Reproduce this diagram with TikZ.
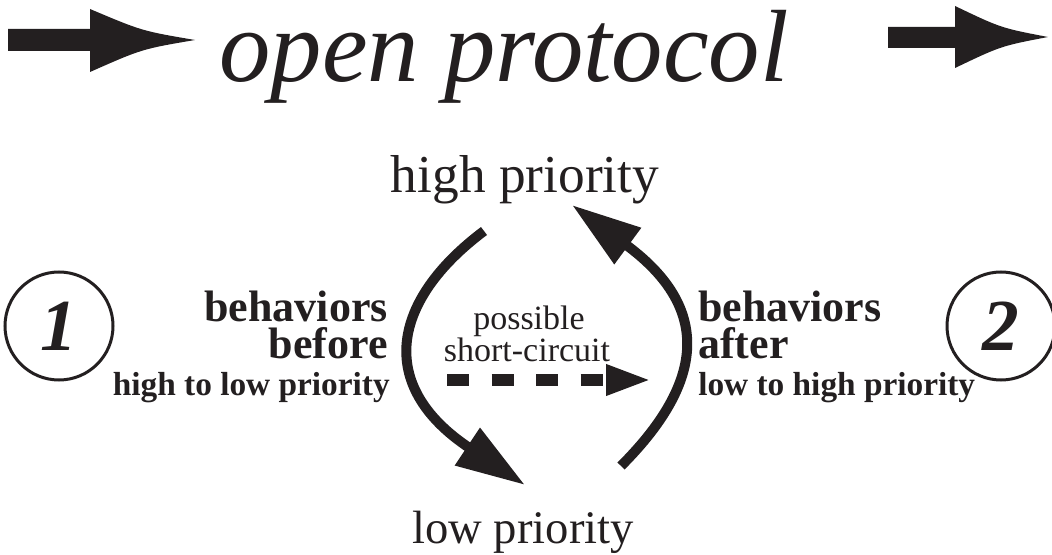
\documentclass[tikz,border=0pt]{standalone}
\usepackage{fontspec}
\setmainfont{Liberation Serif}
\usetikzlibrary{arrows.meta}
\definecolor{ink}{HTML}{231F20}

\begin{document}
\begin{tikzpicture}[x=0.75pt, y=-0.75pt,
	every node/.style = {inner sep=0pt, text=ink},
	label/.style = {font=\fontsize{40}{40}\selectfont},
	bold/.style = {font=\bfseries\fontsize{33}{33}\selectfont},
	boldsmall/.style = {font=\bfseries\fontsize{25}{25}\selectfont},
	small/.style = {font=\fontsize{25.5}{25.5}\selectfont},
	num/.style = {shape=circle, draw=ink, line width=2.25pt, minimum size=81pt,
		font=\bfseries\itshape\fontsize{55}{55}\selectfont},
	curve/.style = {draw=ink, line width=7.5pt, -{Triangle[length=52pt,width=32pt]}},
	shortcut/.style = {draw=ink, line width=9pt, dash pattern=on 16.5pt off 16.9pt,
		-{Triangle[length=34.5pt,width=21pt]}}]
	\useasboundingbox (0,0) rectangle (1052,555);
	\clip (0,0) rectangle (1052,555);

	% title with the two block arrows
	\fill[ink] (8,29) -- (90,29) -- (90,9) .. controls (142,31) .. (195,40)
		.. controls (142,49) .. (90,72) -- (90,51) -- (8,51) -- cycle;
	\fill[ink] (888,27) -- (955,27) -- (955,6) .. controls (1001,28) .. (1048,37)
		.. controls (1001,46) .. (955,68) -- (955,48) -- (888,48) -- cycle;
	\node[font=\itshape\fontsize{77}{77}\selectfont, anchor=base] (title) at (504,82) {open protocol};

	% priorities
	\node[label, anchor=base] (hp) at (525,193) {high priority};
	\node[label, anchor=base, font=\fontsize{35}{35}\selectfont] (lp) at (523,543) {low priority};

	% left side
	\node[num] (one) at (59,326) {1};
	\node[bold, anchor=base east] (lbeh) at (388,322) {behaviors};
	\node[bold, anchor=base east] (lbef) at (388,359) {before};
	\node[boldsmall, anchor=base east] (lhl) at (390,396) {high to low priority};

	% right side
	\node[num] (two) at (1001,326) {2};
	\node[bold, anchor=base west] (rbeh) at (698,322) {behaviors};
	\node[bold, anchor=base west] (raft) at (698,359) {after};
	\node[boldsmall, anchor=base west] (rlh) at (698,396) {low to high priority};

	% middle
	\node[small, anchor=base] (poss) at (529,330) {possible};
	\node[small, anchor=base] (sc) at (527,362) {short-circuit};

	\coordinate (lstart) at (484,231);
	\coordinate (lend) at (525,485);
	\coordinate (rstart) at (621,466);
	\coordinate (rend) at (572,205);
	\coordinate (dstart) at (447,380);
	\coordinate (dend) at (652,380);
	\draw[curve] (lstart) .. controls (392,300) and (375,385) .. (lend);
	\draw[curve] (rstart) .. controls (712,375) and (705,303) .. (rend);
	\draw[shortcut] (dstart) -- (dend);
\end{tikzpicture}
\end{document}
